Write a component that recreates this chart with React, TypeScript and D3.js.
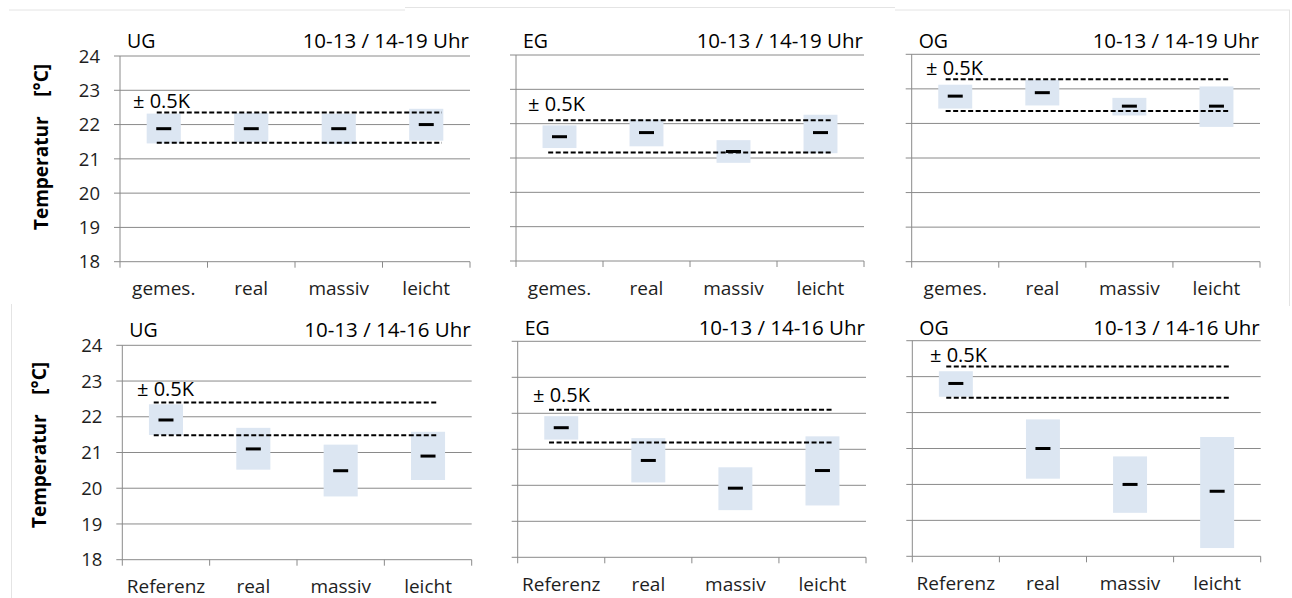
import React from "react";
import * as d3 from "d3";

// ---------- data ----------
const floors = ["UG", "EG", "OG"];
const categoriesTop = ["gemes.", "real", "massiv", "leicht"];
const categoriesBottom = ["Referenz", "real", "massiv", "leicht"];
const periodTop = "10-13 / 14-19 Uhr";
const periodBottom = "10-13 / 14-16 Uhr";
const yTicks = [18, 19, 20, 21, 22, 23, 24];
const bandLabel = "± 0.5K";
const yTitle = "Temperatur    [°C]";

// [low, median, high] per category
const topUG = [[21.45, 21.88, 22.32], [21.49, 21.88, 22.34], [21.43, 21.88, 22.32], [21.53, 22.0, 22.46]];
const topEG = [[21.29, 21.62, 21.95], [21.34, 21.74, 22.12], [20.86, 21.19, 21.52], [21.14, 21.74, 22.26]];
const topOG = [[22.43, 22.79, 23.12], [22.52, 22.89, 23.26], [22.23, 22.5, 22.74], [21.9, 22.5, 23.07]];
const botUG = [[21.49, 21.91, 22.35], [20.52, 21.1, 21.69], [19.77, 20.49, 21.22], [20.23, 20.9, 21.58]];
const botEG = [[21.27, 21.6, 21.92], [20.08, 20.69, 21.31], [19.31, 19.92, 20.5], [19.44, 20.41, 21.36]];
const botOG = [[22.44, 22.81, 23.15], [20.16, 21.0, 21.81], [19.21, 20.0, 20.78], [18.23, 19.81, 21.32]];

// tolerance band [lower, upper]
const topBands = [[21.47, 22.35], [21.16, 22.1], [22.36, 23.28]];
const botBands = [[21.48, 22.4], [21.19, 22.1], [22.41, 23.28]];

// ---------- layout ----------
const FONT = "'Open Sans', 'DejaVu Sans', sans-serif";
const GRID = "#8a8a8a";
const BOX = "#dce6f2";

type Layout = {
  x0: number; x1: number; y0: number; y1: number;
  titleBase: number; dashX: [number, number]; labelX: number; labelDy: number;
};

const layouts: Layout[] = [
  { x0: 120, x1: 470, y0: 56, y1: 261.7, titleBase: 47.7, dashX: [0.42, 3.68], labelX: 133, labelDy: -4.5 },
  { x0: 516, x1: 864, y0: 55, y1: 261, titleBase: 47.7, dashX: [0.37, 3.63], labelX: 528, labelDy: -9 },
  { x0: 911.7, x1: 1260, y0: 54.3, y1: 261.7, titleBase: 47.5, dashX: [0.39, 3.64], labelX: 926, labelDy: -4 },
  { x0: 122.3, x1: 471.7, y0: 345.3, y1: 559.7, titleBase: 337.3, dashX: [0.36, 3.62], labelX: 137, labelDy: -6 },
  { x0: 517.7, x1: 866, y0: 341.3, y1: 557.3, titleBase: 335.3, dashX: [0.36, 3.62], labelX: 533, labelDy: -8 },
  { x0: 912.3, x1: 1260.7, y0: 340.7, y1: 556.3, titleBase: 334.7, dashX: [0.39, 3.65], labelX: 930, labelDy: -5 },
];

const panels = [
  { floor: floors[0], period: periodTop, cats: categoriesTop, values: topUG, band: topBands[0] },
  { floor: floors[1], period: periodTop, cats: categoriesTop, values: topEG, band: topBands[1] },
  { floor: floors[2], period: periodTop, cats: categoriesTop, values: topOG, band: topBands[2] },
  { floor: floors[0], period: periodBottom, cats: categoriesBottom, values: botUG, band: botBands[0] },
  { floor: floors[1], period: periodBottom, cats: categoriesBottom, values: botEG, band: botBands[1] },
  { floor: floors[2], period: periodBottom, cats: categoriesBottom, values: botOG, band: botBands[2] },
];

function Panel({ p, L, showY }: { p: typeof panels[0]; L: Layout; showY: boolean }) {
  const y = d3.scaleLinear().domain([18, 24]).range([L.y1, L.y0]);
  const x = d3.scaleLinear().domain([0, p.cats.length]).range([L.x0, L.x1]);
  const band = d3.scaleBand<string>().domain(p.cats).range([L.x0, L.x1]);
  const bw = band.bandwidth() * 0.39;
  const mw = 15;
  return (
    <g>
      {yTicks.map((t) => (
        <line key={"g" + t} x1={L.x0 - 6} x2={L.x1} y1={y(t)} y2={y(t)} stroke={GRID} strokeWidth={1} />
      ))}
      <line x1={L.x0} x2={L.x0} y1={y(24)} y2={y(18)} stroke={GRID} strokeWidth={1} />
      {d3.range(p.cats.length + 1).map((i) => (
        <line key={"xt" + i} x1={x(i)} x2={x(i)} y1={y(18)} y2={y(18) + 6} stroke={GRID} strokeWidth={1} />
      ))}
      {showY &&
        yTicks.map((t) => (
          <text key={"yl" + t} x={L.x0 - 20} y={y(t)} dy="0.36em" textAnchor="end" fontSize={18.5} fill="#1e1e1e" fontFamily={FONT}>
            {t}
          </text>
        ))}
      {p.cats.map((c) => (
        <text key={"xl" + c} x={(band(c) as number) + band.bandwidth() / 2} y={L.y1 + 33.5} textAnchor="middle" fontSize={19} fill="#1e1e1e" fontFamily={FONT}>
          {c}
        </text>
      ))}
      {p.values.map((v, i) => {
        const cx = (band(p.cats[i]) as number) + band.bandwidth() / 2;
        return <rect key={"b" + i} x={cx - bw / 2} y={y(v[2])} width={bw} height={y(v[0]) - y(v[2])} fill={BOX} />;
      })}
      {p.band.map((b, i) => (
        <line key={"d" + i} x1={x(L.dashX[0])} x2={x(L.dashX[1])} y1={y(b)} y2={y(b)} stroke="#000" strokeWidth={2} strokeDasharray="5,2.5" />
      ))}
      {p.values.map((v, i) => {
        const cx = (band(p.cats[i]) as number) + band.bandwidth() / 2;
        return <line key={"m" + i} x1={cx - mw / 2} x2={cx + mw / 2} y1={y(v[1])} y2={y(v[1])} stroke="#000" strokeWidth={3} />;
      })}
      <text x={L.labelX} y={y(p.band[1]) + L.labelDy} fontSize={20} fill="#000" fontFamily={FONT}>
        {bandLabel}
      </text>
      <text x={L.x0 + 7} y={L.titleBase} fontSize={19.5} fill="#000" fontFamily={FONT}>
        {p.floor}
      </text>
      <text x={L.x1 - 1} y={L.titleBase} textAnchor="end" fontSize={20.5} fill="#000" fontFamily={FONT}>
        {p.period}
      </text>
    </g>
  );
}

export default function App() {
  return (
    <svg
      width={1292}
      height={598}
      style={{ position: "absolute", left: 0, top: 0, display: "block", background: "#fff" }}
    >
      <g stroke="#e4e4e4" strokeWidth={1}>
        <line x1={9} x2={405} y1={10} y2={10} />
        <line x1={405} x2={895} y1={7.5} y2={7.5} />
        <line x1={895} x2={1290} y1={10} y2={10} />
        <line x1={1289.5} x2={1289.5} y1={10} y2={300} />
        <line x1={1289.5} x2={1289.5} y1={298} y2={306} />
        <line x1={11.5} x2={11.5} y1={304} y2={598} />
      </g>
      {panels.map((p, i) => (
        <Panel key={i} p={p} L={layouts[i]} showY={i % 3 === 0} />
      ))}
      {[147, 445].map((cy, i) => (
        <text
          key={"yt" + i}
          transform={`translate(${i === 0 ? 48 : 46},${cy}) rotate(-90)`}
          textAnchor="middle"
          fontSize={19}
          fontWeight="bold"
          fill="#000"
          fontFamily={FONT}
          style={{ whiteSpace: "pre" }}
        >
          {yTitle}
        </text>
      ))}
    </svg>
  );
}
